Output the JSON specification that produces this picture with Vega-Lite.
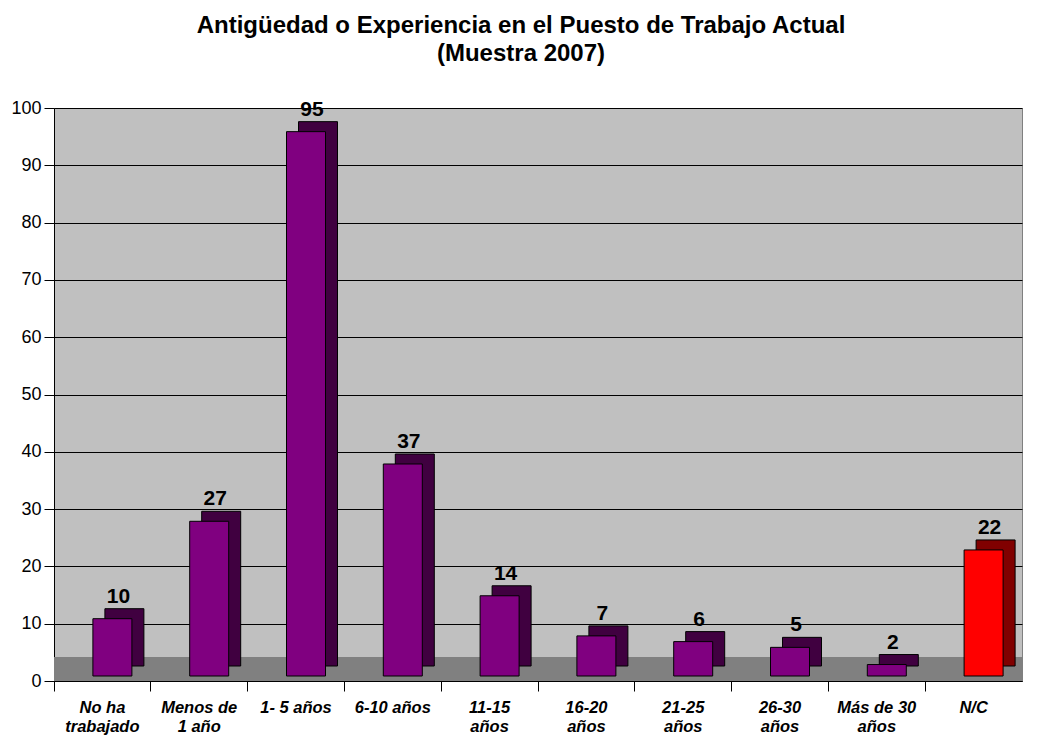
{
  "$schema": "https://vega.github.io/schema/vega-lite/v6.json",
  "autosize": "none",
  "width": 968,
  "height": 573,
  "padding": {"left": 54, "top": 108, "right": 19, "bottom": 56},
  "background": "white",
  "config": {
    "font": "Liberation Sans",
    "view": {"fill": "#C0C0C0", "stroke": "#808080", "strokeWidth": 1}
  },
  "title": {
    "text": ["Antigüedad o Experiencia en el Puesto de Trabajo Actual", "(Muestra 2007)"],
    "fontSize": 24,
    "fontWeight": "bold",
    "font": "Liberation Sans",
    "color": "black",
    "lineHeight": 28,
    "anchor": "middle",
    "frame": "group",
    "dx": -17,
    "offset": 33
  },
  "data": {
    "values": [
      {"cat": "No ha|trabajado", "valor": 10},
      {"cat": "Menos de|1 año", "valor": 27},
      {"cat": "1- 5 años", "valor": 95},
      {"cat": "6-10 años", "valor": 37},
      {"cat": "11-15|años", "valor": 14},
      {"cat": "16-20|años", "valor": 7},
      {"cat": "21-25|años", "valor": 6},
      {"cat": "26-30|años", "valor": 5},
      {"cat": "Más de 30|años", "valor": 2},
      {"cat": "N/C", "valor": 22}
    ]
  },
  "encoding": {
    "x": {
      "field": "cat",
      "type": "nominal",
      "sort": null,
      "scale": {"paddingInner": 0, "paddingOuter": 0},
      "axis": {
        "title": null,
        "bandPosition": 0,
        "labelExpr": "split(datum.label, '|')",
        "labelAngle": 0,
        "labelFont": "Liberation Sans",
        "labelFontSize": 16.5,
        "labelFontWeight": "bold",
        "labelFontStyle": "italic",
        "labelColor": "black",
        "labelLineHeight": 19,
        "labelBaseline": "top",
        "labelPadding": 8,
        "labelOverlap": false,
        "labelLimit": 0,
        "tickSize": 10,
        "tickColor": "black",
        "domainColor": "black",
        "grid": false
      }
    }
  },
  "layer": [
    {
      "data": {"values": [{"floor": 1}]},
      "mark": {"type": "rect", "fill": "#808080"},
      "encoding": {
        "x": null,
        "y": {"datum": 0, "type": "quantitative"},
        "y2": {"datum": 4.2}
      }
    },
    {
      "mark": {"type": "bar", "size": 39, "xOffset": 22, "yOffset": -15, "y2Offset": -15, "stroke": "black", "strokeWidth": 1},
      "encoding": {
        "y": {"field": "valor", "type": "quantitative"},
        "fill": {"condition": {"test": "datum.cat === 'N/C'", "value": "#800000"}, "value": "#400040"}
      }
    },
    {
      "mark": {"type": "bar", "size": 39, "xOffset": 10, "yOffset": -5, "y2Offset": -5, "stroke": "black", "strokeWidth": 1},
      "encoding": {
        "y": {
          "field": "valor",
          "type": "quantitative",
          "scale": {"domain": [0, 100], "nice": false, "zero": true},
          "axis": {
            "title": null,
            "values": [0, 10, 20, 30, 40, 50, 60, 70, 80, 90, 100],
            "labelFont": "Liberation Sans",
            "labelFontSize": 18,
            "labelColor": "black",
            "labelPadding": 3,
            "tickSize": 10,
            "tickColor": "black",
            "domainColor": "black",
            "grid": true,
            "gridColor": "black",
            "gridWidth": 1
          }
        },
        "fill": {"condition": {"test": "datum.cat === 'N/C'", "value": "#FF0000"}, "value": "#800080"}
      }
    },
    {
      "mark": {"type": "text", "font": "Liberation Sans", "fontSize": 21, "fontWeight": "bold", "color": "black", "baseline": "alphabetic", "dx": 16, "dy": -21},
      "encoding": {
        "y": {"field": "valor", "type": "quantitative"},
        "text": {"field": "valor", "type": "quantitative"}
      }
    }
  ]
}
